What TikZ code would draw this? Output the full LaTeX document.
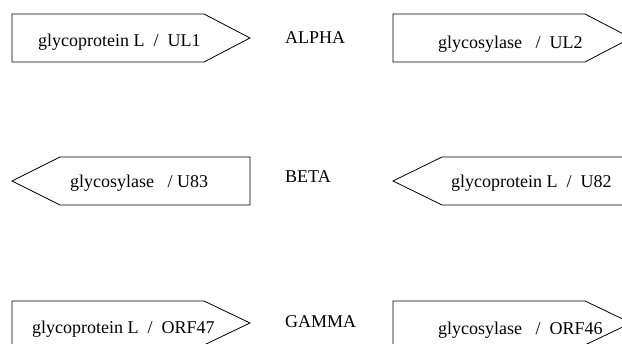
\documentclass[tikz,border=0pt]{standalone}
\usepackage{fontspec}
\setmainfont{Liberation Serif}
\begin{document}
\begin{tikzpicture}[x=1pt,y=1pt,
  gene/.style={draw=black, line width=0.8pt, line join=miter, fill=white},
  lbl/.style={inner sep=0pt, anchor=base west, font=\fontsize{18}{20}\selectfont},
  grp/.style={inner sep=0pt, anchor=base west, font=\fontsize{18}{20}\selectfont}]
\useasboundingbox (0,0) rectangle (622,344);
\clip (0,0) rectangle (622,344);
% row 1
\draw[gene] (12,330) -- (204,330) -- (250,306) -- (204,282) -- (12,282) -- cycle;
\draw[gene] (393,330) -- (585,330) -- (631,306) -- (585,282) -- (393,282) -- cycle;
\node[lbl] (g1) at (38,297) {glycoprotein L~~/~~UL1};
\node[grp] (alpha) at (285,300) {ALPHA};
\node[lbl] (g2) at (438,295) {glycosylase~~~/~~UL2};
% row 2
\draw[gene] (12,163) -- (60,187) -- (250,187) -- (250,139) -- (60,139) -- cycle;
\draw[gene] (393,163) -- (442,187) -- (634,187) -- (634,139) -- (442,139) -- cycle;
\node[lbl] (g3) at (70,156) {glycosylase~~~/~U83};
\node[grp] (beta) at (285,161) {BETA};
\node[lbl] (g4) at (451,156) {glycoprotein~L~~/~~U82};
% row 3
\draw[gene] (12,43) -- (204,43) -- (250,21) -- (204,-1) -- (12,-1) -- cycle;
\draw[gene] (393,43) -- (585,43) -- (631,21) -- (585,-1) -- (393,-1) -- cycle;
\node[lbl] (g5) at (32,10) {glycoprotein L~~/~~ORF47};
\node[grp] (gamma) at (285,16) {GAMMA};
\node[lbl] (g6) at (438,9) {glycosylase~~~/~~ORF46};
\end{tikzpicture}
\end{document}
